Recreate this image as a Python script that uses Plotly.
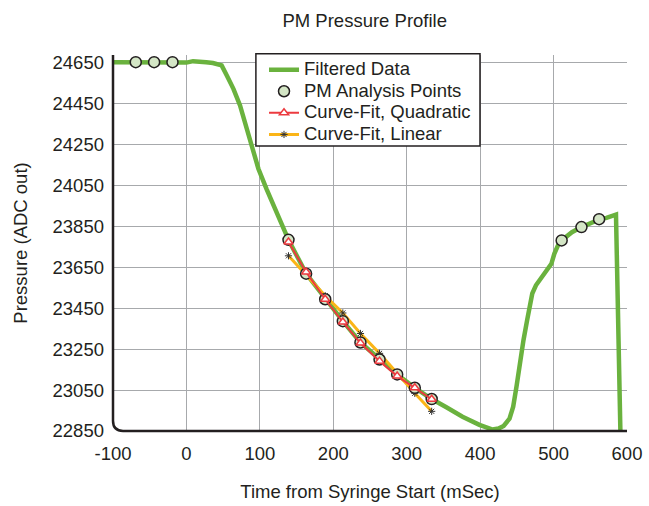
import plotly.graph_objects as go

# ---- data ----
filtered_t = [-100, -69, -44, -19, -9, 0, 9, 18, 27, 36, 43, 48, 55, 64, 73, 82, 89, 98, 109, 123,
              139, 163, 189, 213, 237, 263, 287, 311, 334, 354, 376, 399, 417, 425, 432, 440, 445,
              449.5, 454.5, 459, 464, 468, 471, 476, 483, 490, 497, 501, 506, 511, 525, 538, 553,
              562, 572, 585, 591]
filtered_p = [24650, 24650, 24649, 24648, 24647, 24648, 24655, 24654, 24650, 24646, 24642, 24634,
              24585, 24520, 24439, 24325, 24227, 24130, 24032, 23918,
              23783, 23618, 23493, 23386, 23282, 23199, 23126, 23061, 23006, 22966, 22920, 22880,
              22857, 22862, 22875, 22910, 22969,
              23066, 23196, 23293, 23391, 23472, 23521, 23561, 23594, 23626, 23666, 23715, 23756,
              23780, 23820, 23845, 23869, 23882, 23890, 23906, 22850]

pm_t = [-69, -44, -19, 139, 163, 189, 213, 237, 263, 287, 311, 334, 511, 538, 562]
pm_p = [24650, 24650, 24650, 23783, 23618, 23493, 23386, 23282, 23199, 23126, 23061, 23006,
        23780, 23845, 23884]

fit_t = [139, 163, 189, 213, 237, 263, 287, 311, 334]
quad_p = [23772, 23626, 23493, 23382, 23279, 23191, 23118, 23061, 23005]
lin_p = [23705, 23612, 23510, 23426, 23326, 23229, 23129, 23034, 22946]

x_ticks = [-100, 0, 100, 200, 300, 400, 500, 600]
y_ticks = [22850, 23050, 23250, 23450, 23650, 23850, 24050, 24250, 24450, 24650]

FONT = "Liberation Sans, Arial, Helvetica, sans-serif"
TXT = "#231f20"
GREEN = "#6ab23e"
RED = "#ec3a3f"
ORANGE = "#fbb517"


def lg(name):
    return '<span style="font-size:18.5px">' + name + "</span>"


fig = go.Figure()
fig.add_trace(go.Scatter(x=filtered_t, y=filtered_p, mode="lines", name=lg("Filtered Data"),
                         line=dict(color=GREEN, width=4.5), legendrank=1))
fig.add_trace(go.Scatter(x=fit_t, y=lin_p, mode="lines+markers", name=lg("Curve-Fit, Linear"),
                         line=dict(color=ORANGE, width=3),
                         marker=dict(symbol="asterisk", size=6, color=TXT,
                                     line=dict(color="#333333", width=1)),
                         legendrank=4))
fig.add_trace(go.Scatter(x=pm_t, y=pm_p, mode="markers", name=lg("PM Analysis Points"),
                         marker=dict(symbol="circle", size=11, color="#d4e6c6",
                                     line=dict(color=TXT, width=1.5)),
                         cliponaxis=False, legendrank=2))
fig.add_trace(go.Scatter(x=fit_t, y=quad_p, mode="lines+markers", name=lg("Curve-Fit, Quadratic"),
                         line=dict(color=RED, width=2),
                         marker=dict(symbol="triangle-up", size=8, color="white",
                                     line=dict(color=RED, width=1.5)),
                         legendrank=3))

# legend frame
fig.add_shape(type="rect", xref="paper", yref="paper", x0=0.278, x1=0.714, y0=0.758, y1=1.003,
              fillcolor="white", line=dict(color=TXT, width=1.5), layer="above")
# axis frame with rounded corner
fig.add_shape(type="path", xref="paper", yref="paper",
              path="M0,1 L0,0.027 Q0,0 0.0195,0 L1,0",
              line=dict(color=TXT, width=2.5), layer="above")

fig.update_layout(
    width=649, height=506,
    margin=dict(l=113, r=22, t=55, b=75, autoexpand=False),
    paper_bgcolor="white", plot_bgcolor="white",
    font=dict(family=FONT, size=18, color=TXT),
    title=dict(text="PM Pressure Profile", x=0.562, xref="container", xanchor="center",
               y=0.96, yref="container", yanchor="middle", font=dict(size=18.5, color=TXT)),
    showlegend=True,
    legend=dict(x=0.2938, y=1.003, xanchor="left", yanchor="top", bgcolor="rgba(0,0,0,0)",
                borderwidth=0, font=dict(size=14.3, color=TXT), traceorder="normal"),
)
fig.update_xaxes(range=[-100, 600], tickvals=x_ticks, ticktext=[str(v) for v in x_ticks],
                 showgrid=True, gridcolor="#a7a9ac", gridwidth=1.3, zeroline=False,
                 showline=False, ticks="", ticklabelstandoff=9, automargin=False,
                 tickfont=dict(size=18.5),
                 title=dict(text="Time from Syringe Start (mSec)", standoff=22,
                            font=dict(size=18.5)))
fig.update_yaxes(range=[22850, 24685], tickvals=y_ticks, ticktext=[str(v) for v in y_ticks],
                 showgrid=True, gridcolor="#a7a9ac", gridwidth=1.3, zeroline=False,
                 showline=False, ticks="", ticklabelstandoff=8, automargin=False,
                 tickfont=dict(size=18.5),
                 title=dict(text="Pressure (ADC out)", standoff=20, font=dict(size=18.5)))

fig.write_html("out.html", config={"displayModeBar": False},
               post_script="document.body.style.margin='0';")
